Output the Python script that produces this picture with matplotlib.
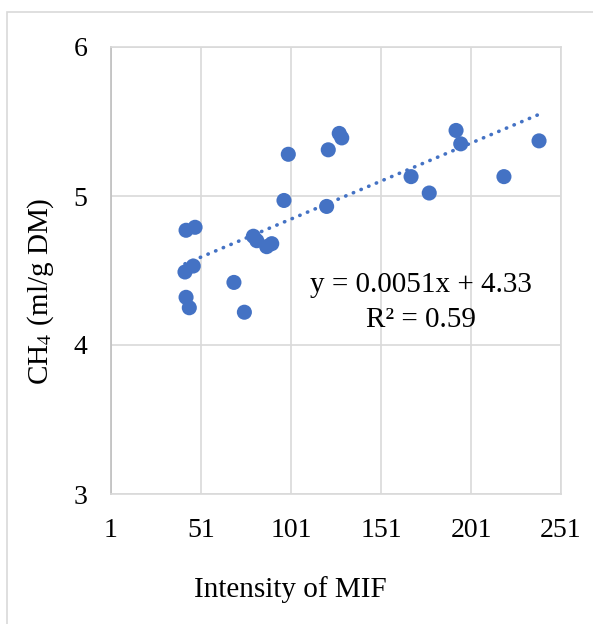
import numpy as np
import matplotlib
matplotlib.use('Agg')
from matplotlib import pyplot as plt
from matplotlib.patches import Rectangle

# Valeurs
mif = [42.7, 47.7, 42.1, 46.7, 42.7, 44.5, 69.3, 75.1, 80.1, 82.0, 87.5, 90.3,
       97.1, 99.5, 121.7, 120.8, 127.8, 129.2, 167.7, 177.8, 192.7, 195.3,
       219.3, 238.8]
ch4 = [4.77, 4.79, 4.49, 4.53, 4.32, 4.25, 4.42, 4.22, 4.73, 4.70, 4.66, 4.68,
       4.97, 5.28, 5.31, 4.93, 5.42, 5.39, 5.13, 5.02, 5.44, 5.35, 5.13, 5.37]
slope, intercept = 0.0051, 4.33
r2 = 0.59
xticks = [1, 51, 101, 151, 201, 251]
yticks = [3, 4, 5, 6]

W, H = 593, 624
blue = '#4472C4'
plt.rcParams['font.family'] = ['Liberation Serif', 'DejaVu Serif']

fig = plt.figure(figsize=(W / 100, H / 100), dpi=100)
# cadre extérieur du graphique
fig.patches.append(Rectangle((7 / W, -0.1), 1.2, 1 - 12 / H + 0.1,
                             transform=fig.transFigure, fill=False,
                             edgecolor='#d9d9d9', linewidth=1.2))

ax = fig.add_axes([111 / W, 1 - 494 / H, 450 / W, 447 / H])
ax.set_xlim(1, 251)
ax.set_ylim(3, 6)
ax.set_xticks(xticks)
ax.set_yticks(yticks)
ax.grid(True, color='#d9d9d9', linewidth=1.2)
ax.set_axisbelow(True)
for name, sp in ax.spines.items():
    sp.set_color('#d9d9d9')
    sp.set_linewidth(1.2)
ax.spines['left'].set_color('#bfbfbf')
ax.tick_params(length=0, labelsize=20, colors='black')
ax.tick_params(axis='x', pad=17)
ax.tick_params(axis='y', pad=17)

ax.scatter(mif, ch4, s=118, color=blue, edgecolors='none', zorder=3)

x_line = np.array([min(mif), max(mif)])
ax.plot(x_line, slope * x_line + intercept, color=blue, linewidth=2.6,
        linestyle=(0, (0.1, 2.2)), dash_capstyle='round', zorder=2)

fig.text(421 / W, 1 - 285 / H, f'y = {slope}x + {intercept}', fontsize=21,
         ha='center', va='center')
fig.text(421 / W, 1 - 320 / H, f'R² = {r2}', fontsize=21,
         ha='center', va='center')

fig.text(290 / W, 1 - 590 / H, 'Intensity of MIF', fontsize=21,
         ha='center', va='center')
fig.text(41 / W, 1 - 291 / H, 'CH$_4$ (ml/g DM)', fontsize=21, rotation=90,
         ha='center', va='center', math_fontfamily='stix')

fig.savefig('out.png', dpi=100)
